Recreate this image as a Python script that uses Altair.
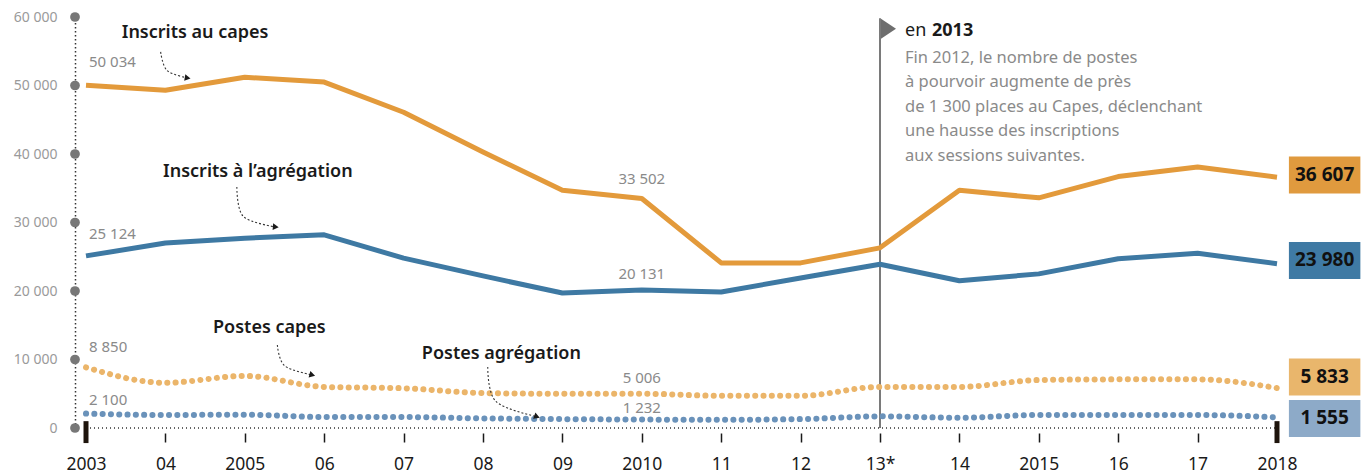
import altair as alt
import pandas as pd

# ---------------- data ----------------
years = list(range(2003, 2019))
x_labels = ["2003", "04", "2005", "06", "07", "08", "09", "2010", "11", "12",
            "13*", "14", "2015", "16", "17", "2018"]
inscrits_capes = [50034, 49300, 51200, 50500, 46100, 40300, 34700, 33502,
                  24100, 24100, 26300, 34700, 33600, 36700, 38100, 36607]
inscrits_agreg = [25124, 27000, 27700, 28200, 24800, 22200, 19700, 20131,
                  19850, 21900, 23900, 21500, 22500, 24700, 25500, 23980]
postes_capes = [8850, 6600, 7600, 6000, 5800, 5100, 5000, 5006,
                4700, 4700, 6000, 6000, 7000, 7100, 7100, 5833]
postes_agreg = [2100, 1900, 1950, 1600, 1600, 1400, 1300, 1232,
                1200, 1300, 1700, 1500, 1900, 1900, 1900, 1555]
y_ticks = [0, 10000, 20000, 30000, 40000, 50000, 60000]

series_names = ["Inscrits au capes", "Inscrits à l’agrégation",
                "Postes capes", "Postes agrégation"]
series_colors = ["#E39A3B", "#3E79A3", "#EBB56A", "#6A92BA"]
box_colors = ["#E09A3E", "#3F7AA4", "#E9B66C", "#8DAAC8"]
end_values = ["36 607", "23 980", "5 833", "1 555"]
end_label_pos = [36940, 24455, 7446, 1387]

# value callouts
callout_year = [2003, 2003, 2003, 2003, 2010, 2010, 2010, 2010]
callout_val = [50034, 25124, 8850, 2100, 33502, 20131, 5006, 1232]
callout_txt = ["50 034", "25 124", "8 850", "2 100", "33 502", "20 131", "5 006", "1 232"]
callout_dy = [-23, -22, -20, -14, -20, -16, -16, -12]

# series name labels position (year, value)
name_year = [2003.45, 2003.97, 2004.60, 2007.23]
name_val = [57670, 37380, 14600, 10800]

# arrows (id, year, value)
arrow_id = [1, 1, 1, 2, 2, 2, 3, 3, 3, 4, 4, 4]
arrow_year = [2003.94, 2004.02, 2004.28, 2004.90, 2004.98, 2005.39,
              2005.41, 2005.50, 2005.85, 2008.06, 2008.16, 2008.68]
arrow_val = [54900, 52200, 51100, 35190, 30900, 29350,
             12120, 9100, 7740, 8900, 3900, 1650]
arrow_angle = [10, 5, 15, 20]

note_lines = ["Fin 2012, le nombre de postes", "à pourvoir augmente de près",
              "de 1 300 places au Capes, déclenchant", "une hausse des inscriptions",
              "aux sessions suivantes."]

FONT = "Noto Sans"
PLOT_H = 411
Y_MAX = 60000

# ---------------- scales / axes ----------------
xscale = alt.Scale(domain=[2003, 2018], nice=False, zero=False)
yscale = alt.Scale(domain=[0, Y_MAX], nice=False)
label_expr = "[" + ",".join("'%s'" % s for s in x_labels) + "][datum.value - 2003]"
xaxis = alt.Axis(values=years, labelExpr=label_expr, title=None, grid=False,
                 domain=False, offset=5, tickSize=9, tickColor="#1a1a1a",
                 tickWidth=1.5, labelFontSize=17.5, labelColor="#1a1a1a",
                 labelFont=FONT, labelPadding=13, labelFlush=False,
                 labelOverlap=False)
yaxis = alt.Axis(values=y_ticks, labelExpr="replace(format(datum.value, ',d'), ',', ' ')",
                 title=None, grid=False, ticks=False, offset=11,
                 domainDash=[1.5, 2.5], domainColor="#333333", domainWidth=1.5,
                 labelFontSize=14, labelColor="#9a9a9a", labelFont=FONT,
                 labelPadding=18, labelFlush=False)


def X(field):
    return alt.X(field, type="quantitative", scale=xscale, axis=xaxis)


def Y(field):
    return alt.Y(field, type="quantitative", scale=yscale, axis=yaxis)


# ---------------- frames ----------------
rows = []
for name, vals in zip(series_names, [inscrits_capes, inscrits_agreg, postes_capes, postes_agreg]):
    for yr, v in zip(years, vals):
        rows.append({"series": name, "year": yr, "value": v})
df = pd.DataFrame(rows)
color_scale = alt.Scale(domain=series_names, range=series_colors)

solid = alt.Chart(df).transform_filter(
    alt.FieldOneOfPredicate(field="series", oneOf=series_names[:2])
).mark_line(strokeWidth=5, strokeJoin="round").encode(
    x=X("year"), y=Y("value"),
    color=alt.Color("series:N", scale=color_scale, legend=None),
)

dotted = alt.Chart(df).transform_filter(
    alt.FieldOneOfPredicate(field="series", oneOf=series_names[2:])
).mark_line(strokeWidth=6, strokeDash=[0.1, 8.2], strokeCap="round",
            interpolate="monotone").encode(
    x=X("year"), y=Y("value"),
    color=alt.Color("series:N", scale=color_scale, legend=None),
)

tick_df = pd.DataFrame({"value": y_ticks})
ydots = alt.Chart(tick_df).mark_circle(size=95, color="#777777", opacity=1).encode(
    x=alt.value(-11), y=Y("value"))

base_df = pd.DataFrame({"year": [2003], "year2": [2018], "value": [0]})
baseline = alt.Chart(base_df).mark_rule(strokeDash=[1, 3], color="#333333",
                                        strokeWidth=1.5).encode(
    x=X("year"), x2="year2", y=Y("value"))

ends_df = pd.DataFrame({"year": [2003, 2018], "v1": [1000, 1000], "v2": [-2200, -2200]})
thick = alt.Chart(ends_df).mark_rule(strokeWidth=5, color="#1e140c").encode(
    x=X("year"), y=Y("v1"), y2="v2")

vline_df = pd.DataFrame({"year": [2013], "v1": [0], "v2": [59800]})
vline = alt.Chart(vline_df).mark_rule(strokeWidth=2, color="#7a7a7a").encode(
    x=X("year"), y=Y("v1"), y2="v2")

flag_df = pd.DataFrame({"year": [2013], "value": [58300]})
flag = alt.Chart(flag_df).mark_point(shape="M0,-1L1.5,0L0,1Z", filled=True,
                                     size=400, color="#6e6e6e", opacity=1,
                                     xOffset=1).encode(
    x=X("year"), y=Y("value"))

note_df = pd.DataFrame({"year": [2013], "value": [57960]})
note_en = alt.Chart(note_df).mark_text(
    text="en", align="left", baseline="middle", fontSize=18, font=FONT,
    color="#1a1a1a", dx=25).encode(x=X("year"), y=Y("value"))
note_year = alt.Chart(note_df).mark_text(
    text="2013", align="left", baseline="middle", fontSize=18, font=FONT,
    fontWeight="bold", color="#1a1a1a", dx=52).encode(x=X("year"), y=Y("value"))

note_body = alt.Chart(pd.DataFrame({"year": [2013], "value": [54020]})).mark_text(
    text=note_lines, align="left", baseline="middle", fontSize=16.5,
    lineHeight=24.5, font=FONT, color="#8a8a8a", dx=25
).encode(x=X("year"), y=Y("value"))

call_df = pd.DataFrame({"year": callout_year, "value": callout_val,
                        "txt": callout_txt, "dy": callout_dy,
                        "al": ["left"] * 4 + ["center"] * 4})
shift = "datum.value - datum.dy * %f" % (Y_MAX / PLOT_H)
callouts_left = alt.Chart(call_df[call_df["al"] == "left"]).transform_calculate(
    ly=shift
).mark_text(
    align="left", baseline="middle", fontSize=15, font=FONT, color="#8a8a8a", dx=3
).encode(x=X("year"), y=Y("ly"), text="txt:N")
callouts_mid = alt.Chart(call_df[call_df["al"] == "center"]).transform_calculate(
    ly=shift
).mark_text(
    align="center", baseline="middle", fontSize=15, font=FONT, color="#8a8a8a"
).encode(x=X("year"), y=Y("ly"), text="txt:N")

names_df = pd.DataFrame({"year": name_year, "value": name_val, "txt": series_names})
names = alt.Chart(names_df).mark_text(
    align="left", baseline="middle", fontSize=18, font=FONT, fontWeight=600,
    color="#1a1a1a"
).encode(x=X("year"), y=Y("value"), text="txt:N")

arr_df = pd.DataFrame({"id": arrow_id, "year": arrow_year, "value": arrow_val,
                       "ord": [0, 1, 2] * 4})
arrows = alt.Chart(arr_df).mark_line(strokeDash=[2, 2], color="#333333",
                                     strokeWidth=1.1, interpolate="cardinal").encode(
    x=X("year"), y=Y("value"), detail="id:N", order="ord:Q")
head_df = arr_df[arr_df["ord"] == 2].copy()
head_df["angle"] = arrow_angle
heads = alt.Chart(head_df).mark_point(shape="triangle-right", filled=True, size=45,
                                      color="#1a1a1a", opacity=1).encode(
    x=X("year"), y=Y("value"), angle=alt.Angle("angle:Q", scale=None))

box_df = pd.DataFrame({"x1": [2018.15] * 4, "x2": [2019.05] * 4,
                       "xc": [2018.6] * 4,
                       "v1": [p + 2700 for p in end_label_pos],
                       "v2": [p - 2700 for p in end_label_pos],
                       "vc": end_label_pos, "txt": end_values, "col": box_colors})
boxes = alt.Chart(box_df).mark_rect().encode(
    x=X("x1"), x2="x2", y=Y("v1"), y2="v2",
    color=alt.Color("col:N", scale=None, legend=None))
box_txt = alt.Chart(box_df).mark_text(
    align="center", baseline="middle", fontSize=19, font=FONT, fontWeight="bold",
    color="#111111"
).encode(x=X("xc"), y=Y("vc"), text="txt:N")

chart = alt.layer(
    baseline, vline, flag, solid, dotted, ydots, thick, callouts_left, callouts_mid,
    names, arrows, heads, note_en, note_year, note_body, boxes, box_txt
).properties(
    width=1191, height=PLOT_H,
    autosize=alt.AutoSizeParams(type="none"),
    padding={"left": 78, "top": 9, "right": 85, "bottom": 45},
    background="white",
).configure_view(stroke=None)

chart.save("out.html", embed_options={"renderer": "svg", "actions": False})
